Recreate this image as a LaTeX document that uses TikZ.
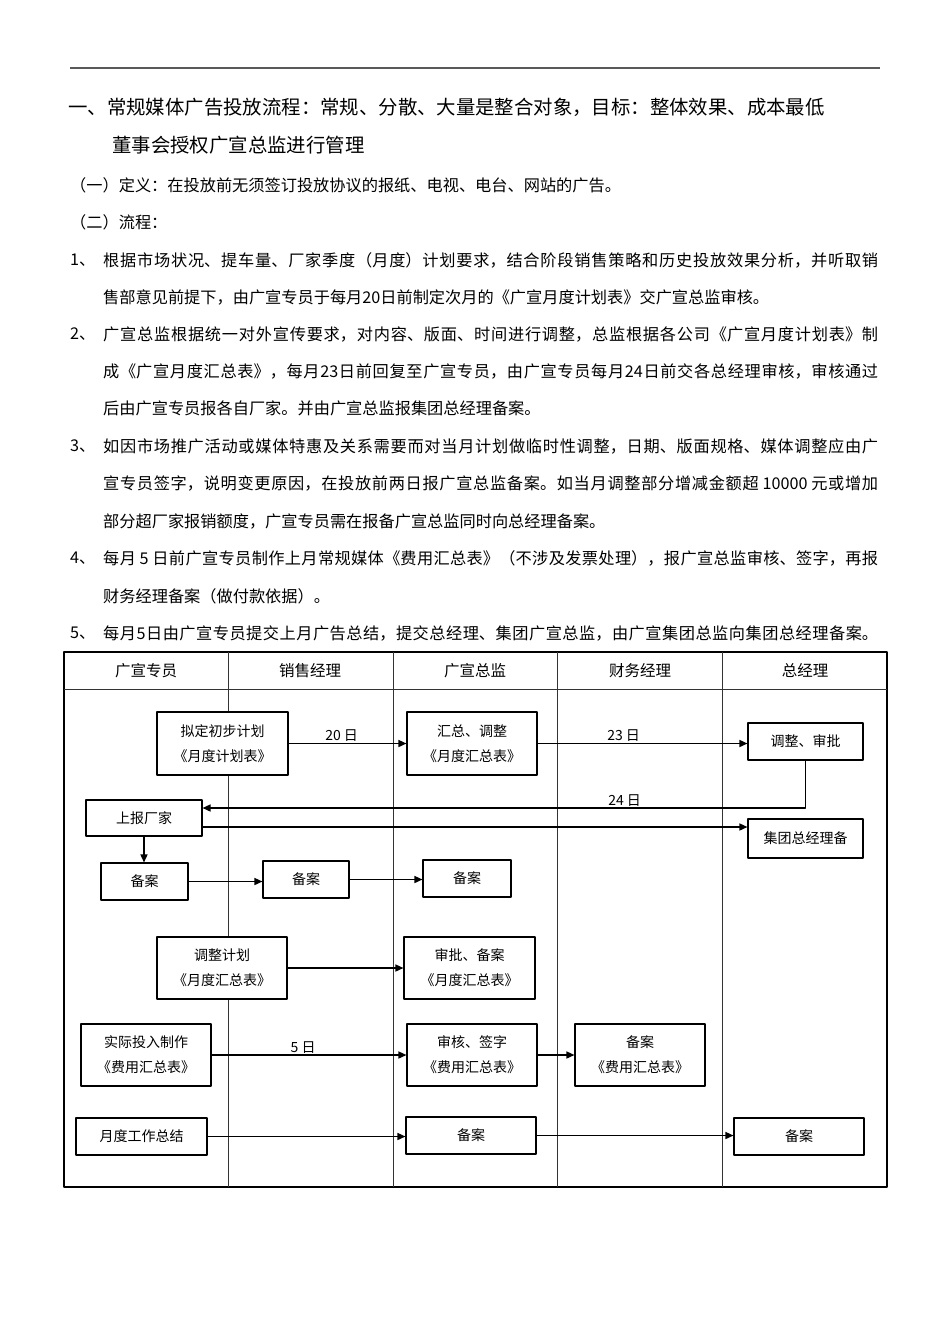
\documentclass[tikz,border=0pt]{standalone}
\usepackage{fontspec}
\setmainfont{Noto Sans CJK SC}
\usetikzlibrary{arrows.meta, positioning, calc}

\newcommand\headfont{\fontsize{19.4}{22}\selectfont}
\newcommand\bodyfont{\fontsize{16.2}{20}\selectfont}
\newcommand\diagfont{\fontsize{14}{25}\selectfont}
% one justified line of a paragraph
\newcommand\fullrow[1]{\parbox{775pt}{\XeTeXlinebreaklocale "zh"\XeTeXlinebreakskip=0pt plus 6pt\parfillskip=0pt\noindent#1}}

\tikzset{
  box/.style={draw, line width=1.1pt, fill=white, align=center, font=\diagfont, inner sep=0pt},
  arr/.style={line width=1.5pt, -{Triangle[length=8pt,width=7pt]}},
  lane/.style={line width=0.9pt, black!80},
  txt/.style={anchor=west, inner sep=0pt, font=\bodyfont},
  lbl/.style={above, inner sep=1pt, font=\fontsize{14}{16}\selectfont},
}

\begin{document}
\begin{tikzpicture}[x=1pt, y=-1pt, line join=round]
  \useasboundingbox (0,0) rectangle (950,1344);
  \draw[line width=2pt, black!65] (70,68) -- (880,68);

  % text part
  \node[txt, font=\headfont] (t1) at (68,107) {一、常规媒体广告投放流程：常规、分散、大量是整合对象，目标：整体效果、成本最低};
  \node[txt, font=\headfont] (t2) at (112,145) {董事会授权广宣总监进行管理};
  \node[txt] (d1) at (70,185) {（一）定义：在投放前无须签订投放协议的报纸、电视、电台、网站的广告。};
  \node[txt] (d2) at (70,222) {（二）流程：};
  \foreach \n/\y in {1/260,2/334,3/446,4/558,5/633} {
    \node[txt] (n\n) at (70,\y) {\n、};
  }
  \node[txt] (p1a) at (103,260) {\fullrow{根据市场状况、提车量、厂家季度（月度）计划要求，结合阶段销售策略和历史投放效果分析，并听取销}};
  \node[txt] (p1b) at (103,297) {售部意见前提下，由广宣专员于每月20日前制定次月的《广宣月度计划表》交广宣总监审核。};
  \node[txt] (p2a) at (103,334) {\fullrow{广宣总监根据统一对外宣传要求，对内容、版面、时间进行调整，总监根据各公司《广宣月度计划表》制}};
  \node[txt] (p2b) at (103,371) {\fullrow{成《广宣月度汇总表》，每月23日前回复至广宣专员，由广宣专员每月24日前交各总经理审核，审核通过}};
  \node[txt] (p2c) at (103,408) {后由广宣专员报各自厂家。并由广宣总监报集团总经理备案。};
  \node[txt] (p3a) at (103,446) {\fullrow{如因市场推广活动或媒体特惠及关系需要而对当月计划做临时性调整，日期、版面规格、媒体调整应由广}};
  \node[txt] (p3b) at (103,483) {\fullrow{宣专员签字，说明变更原因，在投放前两日报广宣总监备案。如当月调整部分增减金额超 10000 元或增加}};
  \node[txt] (p3c) at (103,521) {部分超厂家报销额度，广宣专员需在报备广宣总监同时向总经理备案。};
  \node[txt] (p4a) at (103,558) {\fullrow{每月 5 日前广宣专员制作上月常规媒体《费用汇总表》（不涉及发票处理），报广宣总监审核、签字，再报}};
  \node[txt] (p4b) at (103,596) {财务经理备案（做付款依据）。};
  \node[txt] (p5a) at (103,633) {\fullrow{每月5日由广宣专员提交上月广告总结，提交总经理、集团广宣总监，由广宣集团总监向集团总经理备案。}};

  % swimlane table
  \draw[line width=1.1pt] (64,652) rectangle (887,1187);
  \draw[lane] (64,689) -- (887,689);
  \foreach \x in {228,393,557,722} {
    \draw[lane] (\x,652) -- (\x,1187);
  }
  \foreach \t/\x [count=\i] in {广宣专员/146,销售经理/310,广宣总监/475,财务经理/640,总经理/805} {
    \node[font=\fontsize{15.5}{18}\selectfont] (h\i) at (\x,671) {\t};
  }

  \node[box, minimum width=131pt, minimum height=63pt] (ni) at (222.5,743.5) {拟定初步计划\\《月度计划表》};
  \node[box, minimum width=130pt, minimum height=63pt] (hz) at (472,743.5) {汇总、调整\\《月度汇总表》};
  \node[box, minimum width=115pt, minimum height=37pt] (sp) at (805.5,741.5) {调整、审批};
  \node[box, minimum width=116pt, minimum height=36pt] (sb) at (144,818) {上报厂家};
  \node[box, minimum width=115pt, minimum height=39pt] (jt) at (805.5,838.5) {集团总经理备};
  \node[box, minimum width=87pt, minimum height=37pt] (ba1) at (144.5,881.5) {备案};
  \node[box, minimum width=86pt, minimum height=37pt] (ba2) at (306,879.5) {备案};
  \node[box, minimum width=88pt, minimum height=37pt] (ba3) at (467,878.5) {备案};
  \node[box, minimum width=130pt, minimum height=62pt] (tz) at (222,968) {调整计划\\《月度汇总表》};
  \node[box, minimum width=131pt, minimum height=62pt] (pb) at (469.5,968) {审批、备案\\《月度汇总表》};
  \node[box, minimum width=130pt, minimum height=62pt] (sj) at (146,1055) {实际投入制作\\《费用汇总表》};
  \node[box, minimum width=130pt, minimum height=62pt] (hq) at (472,1055) {审核、签字\\《费用汇总表》};
  \node[box, minimum width=130pt, minimum height=62pt] (cw) at (640,1055) {备案\\《费用汇总表》};
  \node[box, minimum width=131pt, minimum height=37pt] (zj) at (141.5,1136.5) {月度工作总结};
  \node[box, minimum width=130pt, minimum height=37pt] (ba4) at (471,1135.5) {备案};
  \node[box, minimum width=130pt, minimum height=37pt] (ba5) at (799,1136.5) {备案};

  \draw[arr] (ni.east) -- node[lbl, pos=0.45] {20 日} (ni.east -| hz.west);
  \draw[arr] (hz.east) -- node[lbl, pos=0.41] {23 日} (hz.east -| sp.west);
  \draw[arr] (sp.south) |- node[lbl, pos=0.65] {24 日} ([yshift=10pt]sb.east);
  \draw[arr] ([yshift=-9pt]sb.east) -- ([yshift=-9pt]sb.east -| jt.west);
  \draw[arr] (sb.south) -- (sb.south |- ba1.north);
  \draw[arr] (ba1.east) -- (ba1.east -| ba2.west);
  \draw[arr] (ba2.east) -- (ba2.east -| ba3.west);
  \draw[arr] (tz.east) -- (tz.east -| pb.west);
  \draw[arr] (sj.east) -- node[lbl, pos=0.47] {5 日} (sj.east -| hq.west);
  \draw[arr] (hq.east) -- (hq.east -| cw.west);
  \draw[arr] (zj.east) -- (zj.east -| ba4.west);
  \draw[arr] (ba4.east) -- (ba4.east -| ba5.west);
\end{tikzpicture}
\end{document}
